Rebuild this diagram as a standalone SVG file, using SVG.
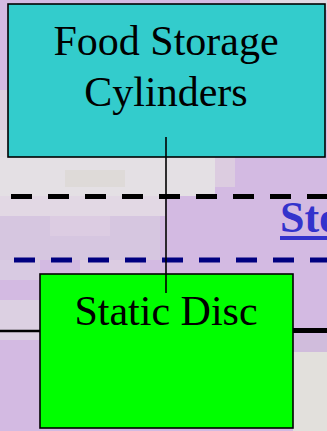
<svg xmlns="http://www.w3.org/2000/svg" width="327" height="431" viewBox="0 0 327 431">
<style>
.lbl{font-family:"Liberation Serif","Times New Roman",serif;font-size:42px;fill:#000;text-anchor:middle}
.box{stroke:#000;stroke-width:1.6}
.conn{stroke:#000;fill:none}
</style>
<g id="background">
<rect x="0" y="0" width="327" height="431" fill="#D3BAE2"/>
<rect x="250" y="0" width="77" height="10" fill="#E0D8E2"/>
<rect x="0" y="90" width="8" height="40" fill="#DCCFE0"/>
<rect x="0" y="130" width="8" height="30" fill="#E2DDE2"/>
<rect x="0" y="157" width="215" height="39" fill="#E4E0E4"/>
<rect x="65" y="170" width="60" height="17" fill="#DEDAD8"/>
<rect x="215" y="157" width="20" height="30" fill="#DCCCE0"/>
<rect x="0" y="196" width="165" height="20" fill="#E2D8E4"/>
<rect x="0" y="216" width="160" height="44" fill="#D6C6E0"/>
<rect x="50" y="216" width="60" height="20" fill="#DCCCE2"/>
<rect x="0" y="260" width="40" height="20" fill="#D8CAE2"/>
<rect x="80" y="260" width="60" height="14" fill="#DCCCE2"/>
<rect x="0" y="300" width="40" height="40" fill="#DCD0E2"/>
<rect x="293" y="335" width="34" height="17" fill="#D0BCDC"/>
<rect x="293" y="352" width="34" height="79" fill="#E2E0DC"/>
</g>
<g id="connectors">
<line class="conn" x1="11" y1="196.5" x2="327" y2="196.5" stroke-width="5" stroke-dasharray="21 16"/>
<line class="conn" x1="14" y1="260" x2="327" y2="260" stroke="#000080" style="stroke:#000080" stroke-width="5" stroke-dasharray="21 16"/>
<line class="conn" x1="0" y1="331" x2="40" y2="331" stroke-width="2.5"/>
<line class="conn" x1="293" y1="330.5" x2="327" y2="330.5" stroke-width="5"/>
</g>
<g id="food-storage-cylinders">
<rect class="box" x="8" y="4" width="317" height="153" fill="#33CCCC"/>
<text class="lbl" x="166" y="55">Food Storage</text>
<text class="lbl" x="166" y="106">Cylinders</text>
</g>
<g id="static-disc">
<rect class="box" x="40" y="274" width="253" height="154" fill="#00FF00"/>
<text class="lbl" x="166" y="325">Static Disc</text>
</g>
<g id="link">
<line class="conn" x1="166" y1="137" x2="166" y2="293" stroke-width="1.6"/>
</g>
<g id="sto-label">
<text x="280" y="232" font-family="'Liberation Serif','Times New Roman',serif" font-size="44" font-weight="bold" fill="#3333CC">Sto</text>
<rect x="280" y="236" width="47" height="4" fill="#3333CC"/>
</g>
</svg>
